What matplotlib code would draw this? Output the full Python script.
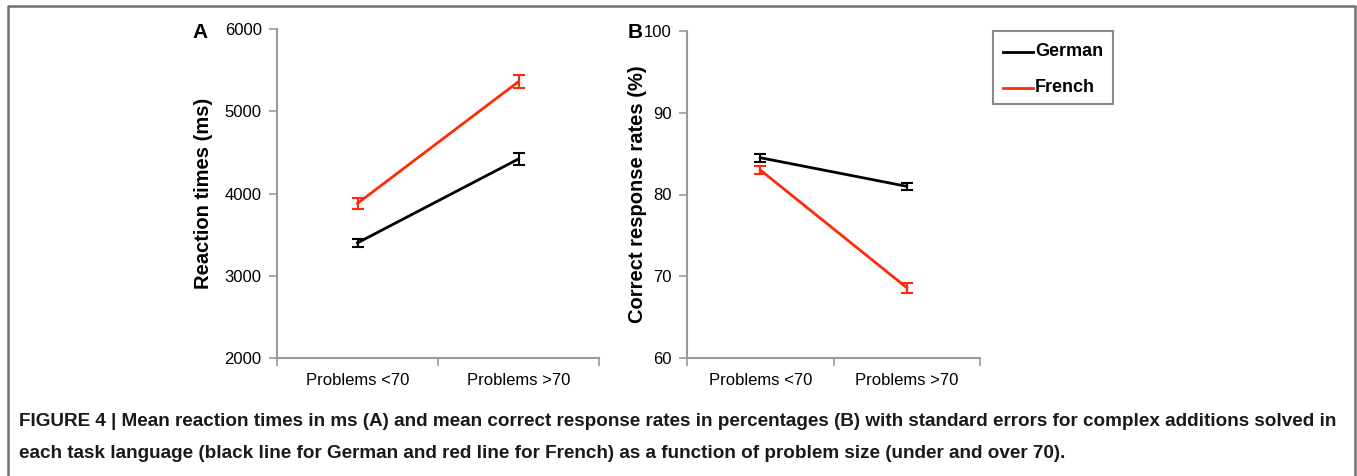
import matplotlib.pyplot as plt
from matplotlib.lines import Line2D
from matplotlib.patches import Rectangle

plt.rcParams['font.family'] = ['Liberation Sans', 'DejaVu Sans']

categories = ['Problems <70', 'Problems >70']
languages = ['German', 'French']

rt_mean = {'German': [3400, 4420], 'French': [3880, 5360]}
rt_err = {'German': [50, 75], 'French': [65, 75]}

acc_mean = {'German': [84.5, 81.0], 'French': [83.0, 68.6]}
acc_err = {'German': [0.5, 0.4], 'French': [0.5, 0.6]}

colors = {'German': 'black', 'French': '#ff2a0a'}
axis_gray = '#9a9a9a'

W, H = 1357, 476
fig = plt.figure(figsize=(W / 100, H / 100), dpi=100)


def px_axes(x0, y0, x1, y1):
    return fig.add_axes([x0 / W, 1 - y1 / H, (x1 - x0) / W, (y1 - y0) / H])


def style(ax, ylim, yticks):
    ax.set_xlim(0, 2)
    ax.set_ylim(*ylim)
    ax.set_yticks(yticks)
    ax.set_xticks([0, 1, 2])
    ax.set_xticklabels([])
    ax.set_xticks([0.5, 1.5], minor=True)
    ax.set_xticklabels(categories, minor=True, fontsize=12)
    ax.tick_params(axis='x', which='minor', length=0, pad=11)
    ax.tick_params(axis='x', which='major', length=6, width=1.2, color=axis_gray)
    ax.tick_params(axis='y', length=6, width=1.2, color=axis_gray, labelsize=12, pad=5)
    for s in ['top', 'right']:
        ax.spines[s].set_visible(False)
    for s in ['left', 'bottom']:
        ax.spines[s].set_color(axis_gray)
        ax.spines[s].set_linewidth(1.5)


x = [0.5, 1.5]

axA = px_axes(277, 29, 599, 358)
for lang in languages:
    axA.errorbar(x, rt_mean[lang], yerr=rt_err[lang], color=colors[lang],
                 lw=2, elinewidth=1.5, capsize=4.5, capthick=1.5)
style(axA, (2000, 6000), [2000, 3000, 4000, 5000, 6000])
axA.set_ylabel('Reaction times (ms)', fontsize=14.5, fontweight='bold')
axA.yaxis.set_label_coords(-0.199, 0.5)
fig.text(192 / W, 1 - 32 / H, 'A', fontsize=15, fontweight='bold', va='center')

axB = px_axes(687, 31, 980, 358)
for lang in languages:
    axB.errorbar(x, acc_mean[lang], yerr=acc_err[lang], color=colors[lang],
                 lw=2, elinewidth=1.5, capsize=4.5, capthick=1.5, label=lang)
style(axB, (60, 100), [60, 70, 80, 90, 100])
axB.set_ylabel('Correct response rates (%)', fontsize=14.5, fontweight='bold')
axB.yaxis.set_label_coords(-0.137, 0.5)
fig.text(628 / W, 1 - 33 / H, 'B', fontsize=15, fontweight='bold', va='center')

# legend box
fig.patches.append(Rectangle((993 / W, 1 - 104 / H), 120 / W, 73 / H,
                             transform=fig.transFigure, fill=False,
                             edgecolor='#8a8a8a', lw=1.5))
for lang, yc in zip(languages, [52, 88]):
    fig.lines.append(Line2D([1003 / W, 1033 / W], [1 - yc / H, 1 - yc / H],
                            transform=fig.transFigure, color=colors[lang], lw=2))
    fig.text(1035 / W, 1 - yc / H, lang, fontsize=13, fontweight='bold', va='center')

# outer frame, open at the bottom
frame_x = [8 / W, 8 / W, 1355 / W, 1355 / W]
frame_y = [0, 1 - 6 / H, 1 - 6 / H, 0]
fig.lines.append(Line2D(frame_x, frame_y, transform=fig.transFigure, color='#707070', lw=1.8))

caption = [
    'FIGURE 4 | Mean reaction times in ms (A) and mean correct response rates in percentages (B) '
    'with standard errors for complex additions solved in',
    'each task language (black line for German and red line for French) as a function of '
    'problem size (under and over 70).',
]
fig.text(19 / W, 1 - 422 / H, caption[0], fontsize=13.6, fontweight='bold', va='center', color='#1a1a1a')
fig.text(19 / W, 1 - 453 / H, caption[1], fontsize=13.6, fontweight='bold', va='center', color='#1a1a1a')

fig.savefig('out.png', dpi=100)
